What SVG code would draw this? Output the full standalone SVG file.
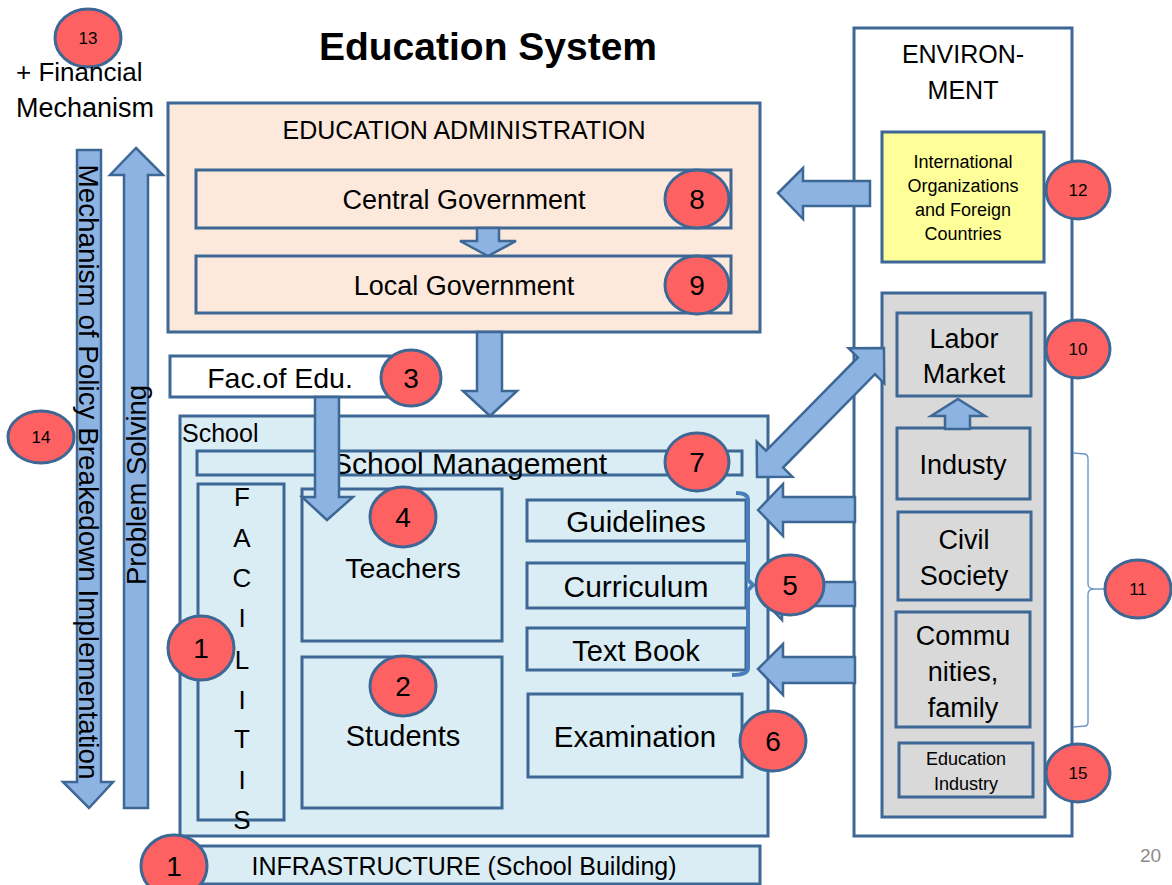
<svg xmlns="http://www.w3.org/2000/svg" width="1172" height="885" viewBox="0 0 1172 885">
<style>
text{font-family:"Liberation Sans",Arial,sans-serif;fill:#000}
.box{stroke:#3d6795;stroke-width:3}
.peach{fill:#fce9dc}
.lb{fill:#daedf4}
.gray{fill:#d9d9d9}
.white{fill:#fff}
.yellow{fill:#ffff99}
.arrow{fill:#8db3e2;stroke:#3d6795;stroke-width:2.5;stroke-linejoin:miter}
.badge{fill:#fe6161;stroke:#3d6795;stroke-width:3}
.c{text-anchor:middle}
.n{font-size:28px;text-anchor:middle}
.ns{font-size:17px;text-anchor:middle}
</style>
<rect width="1172" height="885" fill="#fff"/>

<g id="title"><text x="488" y="60" class="c" font-size="39" font-weight="bold">Education System</text></g>

<g id="financial">
<ellipse class="badge" cx="88" cy="38" rx="33" ry="29"/>
<text x="88" y="44" class="ns">13</text>
<text x="16" y="81" font-size="26">+ Financial</text>
<text x="16" y="117" font-size="27">Mechanism</text>
</g>

<g id="admin">
<rect class="box peach" x="168" y="103" width="592" height="229"/>
<text x="464" y="139" class="c" font-size="25">EDUCATION ADMINISTRATION</text>
</g>
<g id="central">
<rect class="box peach" x="196" y="170" width="535" height="58"/>
<text x="464" y="209" class="c" font-size="27">Central Government</text>
</g>
<g id="local">
<rect class="box peach" x="196" y="256" width="535" height="57"/>
<text x="464" y="295" class="c" font-size="27">Local Government</text>
</g>

<g id="facedu">
<rect class="box white" x="170" y="356" width="222" height="41"/>
<text x="280" y="388" class="c" font-size="28.5">Fac.of Edu.</text>
</g>

<g id="school">
<rect class="box lb" x="180" y="416" width="588" height="420"/>
<text x="182" y="442" font-size="25">School</text>
</g>
<g id="schoolmgmt">
<rect class="box lb" x="197" y="451" width="545" height="24"/>
<text x="332" y="474" font-size="30">School Management</text>
</g>
<g id="facilities">
<rect class="box lb" x="198" y="484" width="86" height="336"/>
<g font-size="26" text-anchor="middle">
<text x="242" y="506">F</text>
<text x="242" y="547">A</text>
<text x="242" y="587">C</text>
<text x="242" y="627">I</text>
<text x="242" y="669">L</text>
<text x="242" y="709">I</text>
<text x="242" y="748">T</text>
<text x="242" y="789">I</text>
<text x="242" y="829">S</text>
</g>
</g>
<g id="teachers">
<rect class="box lb" x="302" y="489" width="200" height="152"/>
<text x="403" y="578" class="c" font-size="28.5">Teachers</text>
</g>
<g id="students">
<rect class="box lb" x="302" y="657" width="200" height="151"/>
<text x="403" y="746" class="c" font-size="29">Students</text>
</g>
<g id="guidelines">
<rect class="box lb" x="527" y="500" width="219" height="41"/>
<text x="636" y="532" class="c" font-size="29.5">Guidelines</text>
</g>
<g id="curriculum">
<rect class="box lb" x="527" y="563" width="219" height="45"/>
<text x="636" y="597" class="c" font-size="30">Curriculum</text>
</g>
<g id="textbook">
<rect class="box lb" x="527" y="628" width="219" height="42"/>
<text x="636" y="661" class="c" font-size="29">Text Book</text>
</g>
<g id="examination">
<rect class="box lb" x="528" y="694" width="214" height="83"/>
<text x="635" y="747" class="c" font-size="29.5">Examination</text>
</g>
<g id="infrastructure">
<rect class="box lb" x="196" y="846" width="564" height="38"/>
<text x="464" y="875" class="c" font-size="25">INFRASTRUCTURE (School Building)</text>
</g>

<g id="environment">
<rect class="box white" x="854" y="28" width="218" height="808"/>
<text x="963" y="63" class="c" font-size="25">ENVIRON-</text>
<text x="963" y="99" class="c" font-size="25">MENT</text>
</g>
<g id="international">
<rect class="box yellow" x="882" y="132" width="162" height="130"/>
<g font-size="18" text-anchor="middle">
<text x="963" y="168">International</text>
<text x="963" y="192">Organizations</text>
<text x="963" y="216">and Foreign</text>
<text x="963" y="240">Countries</text>
</g>
</g>
<g id="society">
<rect class="box gray" x="882" y="293" width="163" height="524"/>
</g>
<g id="labor">
<rect class="box gray" x="897" y="313" width="134" height="83"/>
<text x="964" y="348" class="c" font-size="27">Labor</text>
<text x="964" y="383" class="c" font-size="27">Market</text>
</g>
<g id="industry">
<rect class="box gray" x="897" y="428" width="133" height="71"/>
<text x="963" y="474" class="c" font-size="27">Industy</text>
</g>
<g id="civil">
<rect class="box gray" x="898" y="512" width="133" height="88"/>
<text x="964" y="549" class="c" font-size="27">Civil</text>
<text x="964" y="585" class="c" font-size="27">Society</text>
</g>
<g id="communities">
<rect class="box gray" x="896" y="612" width="134" height="115"/>
<text x="963" y="645" class="c" font-size="27">Commu</text>
<text x="963" y="681" class="c" font-size="27">nities,</text>
<text x="963" y="717" class="c" font-size="27">family</text>
</g>
<g id="eduindustry">
<rect class="box gray" x="899" y="743" width="134" height="54"/>
<text x="966" y="765" class="c" font-size="18">Education</text>
<text x="966" y="790" class="c" font-size="18">Industry</text>
</g>

<g id="connectors">
<polygon class="arrow" points="477,228 499,228 499,241 516,241 488,256 460,241 477,241"/>
<polygon class="arrow" points="477,332 502,332 502,391 517,391 490,416 463,391 477,391"/>
<polygon class="arrow" points="315,397 339,397 339,497 353,497 327,520 302,497 315,497"/>
<polygon class="arrow" points="778,193 803,168 803,181 870,181 870,206 803,206 803,219"/>
<polygon class="arrow" points="758,510 783,484 783,497 855,497 855,522 783,522 783,536"/>
<polygon class="arrow" points="757,594 782,568 782,582 855,582 855,606 782,606 782,620"/>
<polygon class="arrow" points="758,669 783,644 783,657 855,657 855,683 783,683 783,695"/>
<polygon class="arrow" points="958,399 985,416 970,416 970,429 945,429 945,416 931,416"/>
<polygon class="arrow" transform="translate(757,477) rotate(-45.45)" points="0,0 25,-25 25,-12 156,-12 156,-25 181,0 156,25 156,12 25,12 25,25"/>
<path d="M736 493 Q748 493 748 500 L748 580 L753 585 L748 590 L748 668 Q748 675 732 675" fill="none" stroke="#4a7ebb" stroke-width="4"/>
<path d="M1073 453 L1085 454 Q1088 455 1088 459 L1088 584 Q1088 589 1095 589 L1106 589 M1095 589 Q1088 589 1088 594 L1088 722 Q1088 726 1085 726 L1073 727" fill="none" stroke="#6f96c9" stroke-width="1.4"/>
<g id="policy-arrow">
<polygon class="arrow" points="77,150 101,150 101,782 113,782 89,808 63,782 77,782"/>
<text transform="translate(79,472) rotate(90)" class="c" font-size="27.8">Mechanism of Policy Breakedown Implementation</text>
</g>
<g id="problem-arrow">
<polygon class="arrow" points="136,148 163,175 148,175 148,808 124,808 124,175 110,175"/>
<text transform="translate(146,485) rotate(-90)" class="c" font-size="27.5">Problem Solving</text>
</g>
</g>

<g id="badges">
<g id="b8"><ellipse class="badge" cx="697" cy="199" rx="32" ry="29"/><text x="697" y="209" class="n">8</text></g>
<g id="b9"><ellipse class="badge" cx="697" cy="285" rx="32" ry="29"/><text x="697" y="295" class="n">9</text></g>
<g id="b3"><ellipse class="badge" cx="411" cy="378" rx="30" ry="28"/><text x="411" y="388" class="n">3</text></g>
<g id="b7"><ellipse class="badge" cx="697" cy="462" rx="32" ry="29"/><text x="697" y="472" class="n">7</text></g>
<g id="b4"><ellipse class="badge" cx="403" cy="517" rx="33" ry="30"/><text x="403" y="527" class="n">4</text></g>
<g id="b2"><ellipse class="badge" cx="403" cy="686" rx="33" ry="30"/><text x="403" y="696" class="n">2</text></g>
<g id="b1a"><ellipse class="badge" cx="201" cy="648" rx="33" ry="32"/><text x="201" y="658" class="n">1</text></g>
<g id="b1b"><ellipse class="badge" cx="174" cy="866" rx="33" ry="31"/><text x="174" y="876" class="n">1</text></g>
<g id="b5"><ellipse class="badge" cx="790" cy="585" rx="34" ry="30"/><text x="790" y="595" class="n">5</text></g>
<g id="b6"><ellipse class="badge" cx="773" cy="741" rx="33" ry="30"/><text x="773" y="751" class="n">6</text></g>
<g id="b12"><ellipse class="badge" cx="1078" cy="190" rx="32" ry="29"/><text x="1078" y="196" class="ns">12</text></g>
<g id="b10"><ellipse class="badge" cx="1078" cy="349" rx="32" ry="29"/><text x="1078" y="355" class="ns">10</text></g>
<g id="b11"><ellipse class="badge" cx="1138" cy="589" rx="33" ry="29"/><text x="1138" y="595" class="ns">11</text></g>
<g id="b15"><ellipse class="badge" cx="1078" cy="773" rx="32" ry="29"/><text x="1078" y="779" class="ns">15</text></g>
<g id="b14"><ellipse class="badge" cx="41" cy="437" rx="33" ry="26"/><text x="41" y="443" class="ns">14</text></g>
</g>

<g id="page"><text x="1140" y="862" font-size="19" style="fill:#8b8b8b">20</text></g>
</svg>
